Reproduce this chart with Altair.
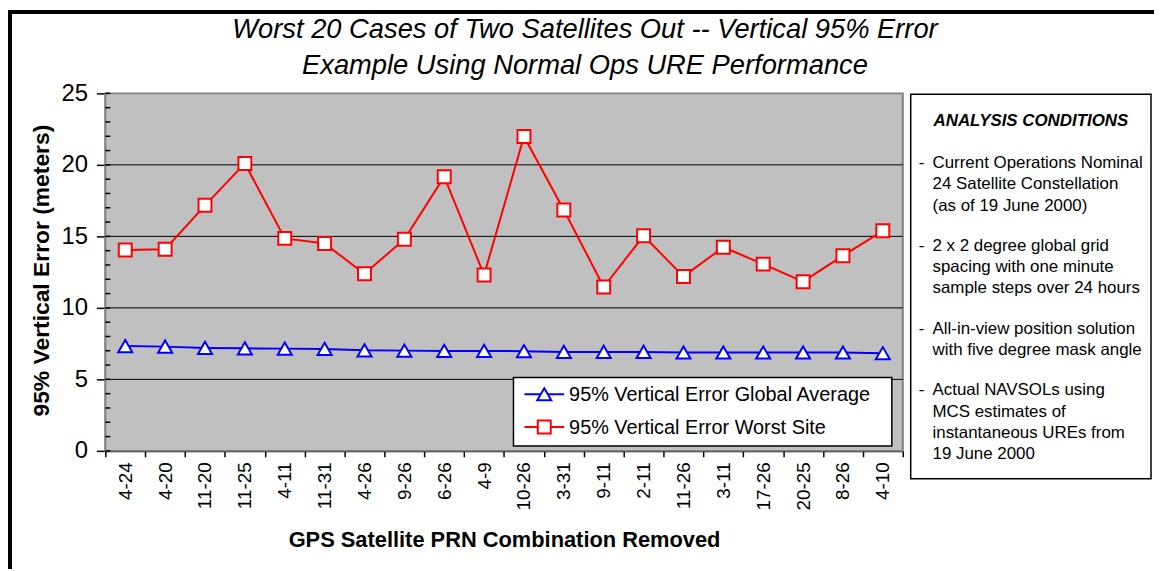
import altair as alt
import pandas as pd

# ---------------- data ----------------
combos = ["4-24", "4-20", "11-20", "11-25", "4-11", "11-31", "4-26", "9-26", "6-26", "4-9",
          "10-26", "3-31", "9-11", "2-11", "11-26", "3-11", "17-26", "20-25", "8-26", "4-10"]
global_avg = [7.33, 7.29, 7.20, 7.17, 7.15, 7.13, 7.03, 7.01, 6.99, 6.99,
              6.97, 6.92, 6.92, 6.92, 6.88, 6.88, 6.88, 6.88, 6.88, 6.83]
worst_site = [14.05, 14.10, 17.17, 20.10, 14.86, 14.50, 12.38, 14.80, 19.17, 12.30,
              21.99, 16.85, 11.46, 15.04, 12.20, 14.24, 13.06, 11.83, 13.65, 15.39]
series_names = ["95% Vertical Error Global Average", "95% Vertical Error Worst Site"]
y_major = [0, 5, 10, 15, 20, 25]
y_grid = [5, 10, 15, 20]
y_minor = list(range(0, 26))
title_lines = ["Worst 20 Cases of Two Satellites Out -- Vertical 95% Error",
               "Example Using Normal Ops URE Performance"]
x_title = "GPS Satellite PRN Combination Removed"
y_title = "95% Vertical Error (meters)"
cond_heading = "ANALYSIS CONDITIONS"
cond_groups = [
    ["Current Operations Nominal", "24 Satellite Constellation", "(as of 19 June 2000)"],
    ["2 x 2 degree global grid", "spacing with one minute", "sample steps over 24 hours"],
    ["All-in-view position solution", "with five degree mask angle"],
    ["Actual NAVSOLs using", "MCS estimates of", "instantaneous UREs from", "19 June 2000"],
]

# ---------------- styles / layout ----------------
W, H = 803, 360
FONT = "Liberation Sans"
series_colors = ["#0000FF", "#FF0000"]
series_shapes = ["triangle-up", "square"]
series_sizes = [200, 170]

df = pd.DataFrame({
    "combo": combos * 2,
    "value": global_avg + worst_site,
    "series": [series_names[0]] * len(combos) + [series_names[1]] * len(combos),
})

color_scale = alt.Scale(domain=series_names, range=series_colors)
shape_scale = alt.Scale(domain=series_names, range=series_shapes)
size_scale = alt.Scale(domain=series_names, range=series_sizes)

X = alt.X("combo:N", sort=combos,
          scale=alt.Scale(type="band", paddingInner=0, paddingOuter=0),
          axis=alt.Axis(title=x_title, labelAngle=270, labelFontSize=19, labelFont=FONT,
                        labelColor="black", tickBand="extent", tickSize=6, tickColor="black",
                        tickWidth=1.5, domainColor="black", domainWidth=2, labelPadding=5,
                        titleFont=FONT, titleFontSize=22, titleFontWeight="bold",
                        titleColor="black", titleX=W / 2, titleY=89, titleAlign="center",
                        titleBaseline="middle", grid=False))

Y = alt.Y("value:Q", scale=alt.Scale(domain=[0, 25], nice=False, zero=True),
          axis=alt.Axis(values=y_major, title=y_title, grid=False, tickSize=9,
                        tickColor="black", tickWidth=1.5, domainColor="black", domainWidth=2,
                        labelFontSize=24, labelFont=FONT, labelColor="black", labelPadding=9,
                        titleFont=FONT, titleFontSize=23, titleFontWeight="bold",
                        titleColor="black", titleAngle=270, titleX=-64, titleY=178,
                        titleAlign="center", titleBaseline="middle"))

one = pd.DataFrame({"a": [0]})

plot_bg = alt.Chart(one).mark_rect(fill="#C0C0C0", stroke="#808080", strokeWidth=2).encode(
    x=alt.value(0), x2=alt.value(W), y=alt.value(0), y2=alt.value(H))

grid = alt.Chart(pd.DataFrame({"value": y_grid})).mark_rule(color="black", strokeWidth=1).encode(y=Y)
minor = alt.Chart(pd.DataFrame({"value": y_minor})).mark_rule(color="black", strokeWidth=1.5).encode(
    y=Y, x=alt.value(0), x2=alt.value(5))

lines = alt.Chart(df).mark_line(strokeWidth=2).encode(
    x=X, y=Y, color=alt.Color("series:N", scale=color_scale, legend=None))
points = alt.Chart(df).mark_point(fill="white", fillOpacity=1, opacity=1, strokeWidth=2).encode(
    x=X, y=Y,
    stroke=alt.Stroke("series:N", scale=color_scale, legend=None),
    shape=alt.Shape("series:N", scale=shape_scale, legend=None),
    size=alt.Size("series:N", scale=size_scale, legend=None))

# legend (manual, Excel style)
legend_layers = [
    alt.Chart(one).mark_rect(fill="white", stroke="black", strokeWidth=1.5).encode(
        x=alt.value(411), x2=alt.value(792), y=alt.value(286), y2=alt.value(355))
]
for i, name in enumerate(series_names):
    ly = 303 + 33 * i
    sdf = pd.DataFrame({"series": [name]})
    legend_layers.append(alt.Chart(sdf).mark_rule(strokeWidth=2).encode(
        x=alt.value(422), x2=alt.value(462), y=alt.value(ly),
        color=alt.Color("series:N", scale=color_scale, legend=None)))
    legend_layers.append(alt.Chart(sdf).mark_point(fill="white", fillOpacity=1, opacity=1,
                                                    strokeWidth=2).encode(
        x=alt.value(442), y=alt.value(ly),
        stroke=alt.Stroke("series:N", scale=color_scale, legend=None),
        shape=alt.Shape("series:N", scale=shape_scale, legend=None),
        size=alt.Size("series:N", scale=size_scale, legend=None)))
    legend_layers.append(alt.Chart(sdf).mark_text(align="left", baseline="middle", fontSize=20,
                                                   font=FONT, color="black").encode(
        x=alt.value(467), y=alt.value(ly + 1), text="series:N"))

# analysis conditions box
box_layers = [
    alt.Chart(one).mark_rect(fill="white", stroke="black", strokeWidth=1.5).encode(
        x=alt.value(811), x2=alt.value(1053), y=alt.value(1), y2=alt.value(388)),
    alt.Chart(pd.DataFrame({"t": [cond_heading]})).mark_text(
        align="center", baseline="middle", fontSize=17, fontWeight="bold", fontStyle="italic",
        font=FONT, color="black").encode(x=alt.value(932), y=alt.value(28), text="t:N"),
]
yy = 70.0
for grp in cond_groups:
    box_layers.append(alt.Chart(pd.DataFrame({"t": ["-"]})).mark_text(
        align="left", baseline="middle", fontSize=17, font=FONT, color="black").encode(
        x=alt.value(819), y=alt.value(yy), text="t:N"))
    for line in grp:
        box_layers.append(alt.Chart(pd.DataFrame({"t": [line]})).mark_text(
            align="left", baseline="middle", fontSize=17, font=FONT, color="black").encode(
            x=alt.value(833), y=alt.value(yy), text="t:N"))
        yy += 21.5
    yy += 19

# title lines
title_layers = []
for i, t in enumerate(title_lines):
    title_layers.append(alt.Chart(pd.DataFrame({"t": [t]})).mark_text(
        align="center", baseline="middle", fontSize=27.5, fontStyle="italic", font=FONT,
        color="black").encode(x=alt.value(483), y=alt.value(-64 + 36 * i), text="t:N"))

# outer frame (top and left edges)
frame = [
    alt.Chart(one).mark_rule(color="black", strokeWidth=4).encode(
        x=alt.value(-98), x2=alt.value(1056), y=alt.value(-82)),
    alt.Chart(one).mark_rule(color="black", strokeWidth=4).encode(
        x=alt.value(-96), y=alt.value(-84), y2=alt.value(479)),
]

chart = alt.layer(plot_bg, grid, minor, lines, points, *legend_layers, *box_layers,
                  *title_layers, *frame).properties(
    width=W, height=H,
    padding={"left": 98, "top": 84, "right": 253, "bottom": 119},
    autosize=alt.AutoSizeParams(type="none"),
    background="white",
).configure_view(stroke=None).configure(font=FONT)

chart.save("out.html", embed_options={"renderer": "svg", "actions": False})
